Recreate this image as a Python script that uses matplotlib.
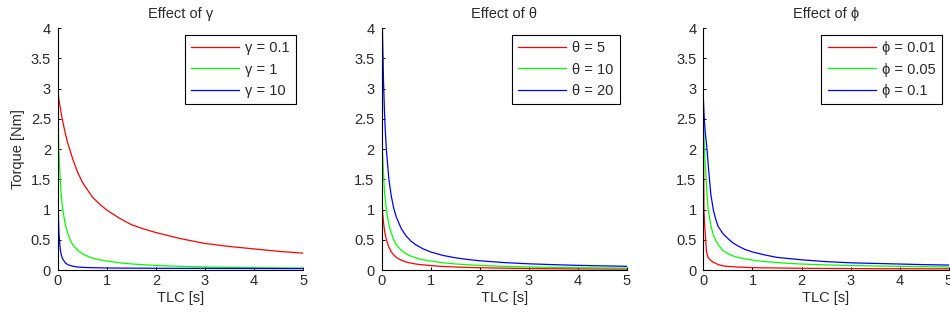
import numpy as np
import matplotlib
matplotlib.use('Agg')
import matplotlib.pyplot as plt

plt.rcParams['font.family'] = ['Liberation Sans', 'DejaVu Sans']

# TLC sample points [s]
tlc = [0, 0.01, 0.02, 0.04, 0.06, 0.08, 0.1, 0.15, 0.2, 0.25, 0.3, 0.4, 0.5,
       0.6, 0.7, 0.85, 1.0, 1.25, 1.5, 1.75, 2.0, 2.5, 3.0, 3.5, 4.0, 4.5, 5.0]

# Effect of gamma
gam_01 = [2.93, 2.88, 2.82, 2.72, 2.62, 2.53, 2.45, 2.26, 2.10, 1.97, 1.84, 1.62,
          1.45, 1.33, 1.21, 1.09, 0.99, 0.86, 0.75, 0.68, 0.62, 0.52, 0.44, 0.39,
          0.35, 0.31, 0.28]
gam_1 = [2.6, 2.24, 1.96, 1.6, 1.31, 1.13, 0.99, 0.75, 0.61, 0.5, 0.42, 0.33,
         0.27, 0.23, 0.2, 0.17, 0.15, 0.12, 0.102, 0.088, 0.077, 0.062, 0.052,
         0.045, 0.04, 0.036, 0.033]
gam_10 = [1.8, 0.9, 0.62, 0.4, 0.28, 0.22, 0.18, 0.12, 0.09, 0.075, 0.065, 0.05,
          0.045, 0.042, 0.04, 0.037, 0.035, 0.033, 0.032, 0.031, 0.03, 0.029,
          0.028, 0.027, 0.026, 0.025, 0.025]

# Effect of theta
th_5 = [1.3, 1.12, 0.98, 0.79, 0.66, 0.57, 0.5, 0.38, 0.3, 0.25, 0.21, 0.165,
        0.135, 0.115, 0.1, 0.086, 0.075, 0.06, 0.051, 0.044, 0.039, 0.031, 0.026,
        0.022, 0.02, 0.018, 0.016]
th_10 = gam_1
th_20 = [5.2, 4.45, 3.92, 3.14, 2.62, 2.26, 1.98, 1.5, 1.22, 1.02, 0.88, 0.69,
         0.566, 0.48, 0.418, 0.35, 0.30, 0.243, 0.204, 0.176, 0.154, 0.124, 0.104,
         0.09, 0.078, 0.07, 0.062]

# Effect of phi
ph_001 = [2.15, 1.0, 0.8, 0.55, 0.32, 0.24, 0.2, 0.16, 0.13, 0.11, 0.09, 0.07,
          0.06, 0.055, 0.05, 0.045, 0.04, 0.037, 0.035, 0.032, 0.03, 0.027, 0.025,
          0.023, 0.022, 0.021, 0.02]
ph_005 = [2.5, 2.2, 2.0, 1.7, 1.42, 1.15, 0.98, 0.74, 0.58, 0.49, 0.42, 0.32,
          0.27, 0.235, 0.21, 0.185, 0.165, 0.14, 0.125, 0.11, 0.1, 0.085, 0.075,
          0.068, 0.062, 0.057, 0.05]
ph_01 = [2.8, 2.6, 2.45, 2.25, 2.1, 1.92, 1.7, 1.25, 1.0, 0.84, 0.72, 0.6,
         0.52, 0.45, 0.4, 0.34, 0.3, 0.25, 0.21, 0.19, 0.17, 0.14, 0.12, 0.11,
         0.1, 0.09, 0.083]

titles = ['Effect of γ', 'Effect of θ', 'Effect of ϕ']
series = [[gam_01, gam_1, gam_10], [th_5, th_10, th_20], [ph_001, ph_005, ph_01]]
labels = [['γ = 0.1', 'γ = 1', 'γ = 10'],
          ['θ = 5', 'θ = 10', 'θ = 20'],
          ['ϕ = 0.01', 'ϕ = 0.05', 'ϕ = 0.1']]
colors = ['#ff0000', '#00ff00', '#0000ff']
yticks = [0, 0.5, 1, 1.5, 2, 2.5, 3, 3.5, 4]
yticklabels = ['0', '0.5', '1', '1.5', '2', '2.5', '3', '3.5', '4']
xticks = [0, 1, 2, 3, 4, 5]

fig = plt.figure(figsize=(9.5, 3.2), dpi=100)
lefts = [0.061, 0.4016, 0.7405]
txt = '#2a2a2a'
fs = 10.5

for k in range(3):
    ax = fig.add_axes([lefts[k], 0.156, 0.258, 0.756])
    for s, lab, c in zip(series[k], labels[k], colors):
        ax.plot(tlc, s, color=c, lw=0.9, label=lab)
    ax.set_xlim(0, 5)
    ax.set_ylim(0, 4)
    ax.set_xticks(xticks)
    ax.set_xticklabels([str(v) for v in xticks])
    ax.set_yticks(yticks)
    ax.set_yticklabels(yticklabels)
    ax.spines['top'].set_visible(False)
    ax.spines['right'].set_visible(False)
    ax.spines['left'].set_linewidth(0.8)
    ax.spines['bottom'].set_linewidth(0.8)
    ax.tick_params(direction='in', length=2.5, width=0.7, labelsize=fs,
                   labelcolor=txt)
    ax.tick_params(axis='y', pad=5)
    ax.tick_params(axis='x', pad=3)
    ax.set_title(titles[k], fontsize=fs, color=txt, pad=7)
    ax.set_xlabel('TLC [s]', fontsize=fs, color=txt, labelpad=2)
    if k == 0:
        ax.set_ylabel('Torque [Nm]', fontsize=fs, color=txt, labelpad=4)
    leg = ax.legend(loc='upper right', fontsize=fs, handlelength=3.3,
                    handletextpad=0.4, labelspacing=0.5, borderaxespad=0.45,
                    borderpad=0.45, fancybox=False, framealpha=1,
                    edgecolor='black')
    leg.get_frame().set_linewidth(0.8)
    for t in leg.get_texts():
        t.set_color(txt)

fig.savefig('out.png', dpi=100)
